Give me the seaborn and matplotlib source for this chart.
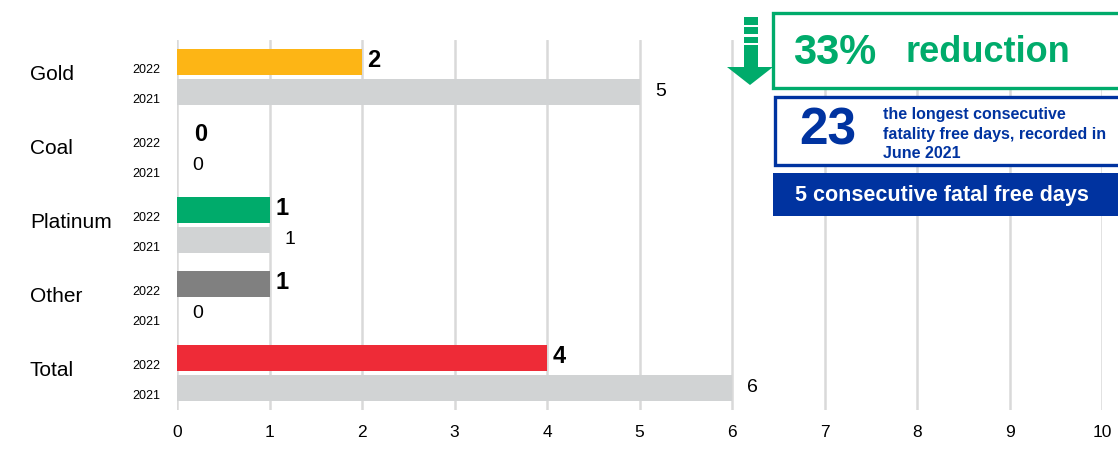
import pandas as pd
import seaborn as sns
import matplotlib.pyplot as plt
import matplotlib.transforms as mtransforms
from matplotlib.patches import Rectangle, Polygon

# data
commodities = ['Gold', 'Coal', 'Platinum', 'Other', 'Total']
years = ['2022', '2021']
fatal_2022 = [2, 0, 1, 1, 4]
fatal_2021 = [5, 0, 1, 0, 6]
colours_2022 = ['#FDB515', '#FDB515', '#00AB6B', '#808080', '#EE2B37']
colour_2021 = '#D1D3D4'
x_ticks = list(range(0, 11))

green = '#00AB6B'
blue = '#0033A0'

df = pd.DataFrame({
    'Commodity': commodities * 2,
    'Year': ['2022'] * len(commodities) + ['2021'] * len(commodities),
    'Fatalities': fatal_2022 + fatal_2021,
})

sns.set_style('white')
plt.rcParams['font.family'] = ['Liberation Sans', 'DejaVu Sans']
plt.rcParams['text.color'] = 'black'

W, H = 1118, 453
fig = plt.figure(figsize=(W / 100, H / 100), dpi=100)
ax = fig.add_axes([177 / W, 43 / H, 925 / W, 370 / H])

sns.barplot(data=df, y='Commodity', x='Fatalities', hue='Year', hue_order=years,
            order=commodities, orient='h', width=0.8, gap=0.11, saturation=1,
            palette=[colours_2022[0], colour_2021], legend=False, ax=ax,
            edgecolor='none', linewidth=0)

# colour the 2022 bars per commodity
for bar, c in zip(ax.containers[0], colours_2022):
    bar.set_facecolor(c)

ax.set_xlim(0, 10)
ax.set_ylim(4.5, -0.5)
ax.set_xticks(x_ticks)
ax.set_yticks([])
ax.set_xlabel('')
ax.set_ylabel('')
ax.xaxis.grid(True, color='#D9D9D9', lw=1.8)
ax.set_axisbelow(True)
for s in ax.spines.values():
    s.set_visible(False)
ax.tick_params(axis='x', length=0, pad=11, labelsize=12.5, colors='black')
for lab in ax.get_xticklabels():
    lab.set_family(['Liberation Sans Narrow', 'Liberation Sans'])

trans = mtransforms.blended_transform_factory(ax.transAxes, ax.transData)

# category labels
for i, name in enumerate(commodities):
    ax.text(-0.159, i - 0.04, name, transform=trans, ha='left', va='center', fontsize=15)

# year labels + value labels
for cont, yr, vals in zip(ax.containers, years, [fatal_2022, fatal_2021]):
    for bar, v in zip(cont, vals):
        yc = bar.get_y() + bar.get_height() / 2
        ax.text(-0.018, yc + 0.11, yr, transform=trans, ha='right', va='center', fontsize=9)
        if yr == '2022':
            off = 12 if v == 0 else 4
            ax.annotate(str(v), xy=(v, yc), xytext=(off, 1), textcoords='offset points',
                        ha='left', va='center', fontsize=17, fontweight='bold')
        else:
            ax.annotate(str(v), xy=(v, yc), xytext=(11, 0), textcoords='offset points',
                        ha='left', va='center', fontsize=14)


def fx(x):
    return x / W


def fy(y):
    return 1 - y / H


tf = fig.transFigure

# green reduction box and arrow
fig.patches.append(Rectangle((fx(773), fy(88)), (1135 - 773) / W, 75 / H, transform=tf,
                             facecolor='white', edgecolor=green, lw=2.4))
fig.text(fx(793), fy(53), '33%', fontsize=30, fontweight='bold', color=green, va='center')
fig.text(fx(905), fy(52), 'reduction', fontsize=26, fontweight='bold', color=green, va='center')
for y0, y1 in [(17, 25), (27, 34), (37, 43), (45, 68)]:
    fig.patches.append(Rectangle((fx(744), fy(y1)), 14 / W, (y1 - y0) / H, transform=tf,
                                 facecolor=green, edgecolor='none'))
fig.patches.append(Polygon([(fx(727), fy(67)), (fx(773), fy(67)), (fx(750), fy(85))],
                           closed=True, transform=tf, facecolor=green, edgecolor='none'))

# blue record box
fig.patches.append(Rectangle((fx(775), fy(165)), (1135 - 775) / W, 68 / H, transform=tf,
                             facecolor='white', edgecolor=blue, lw=2.4))
fig.text(fx(799), fy(131), '23', fontsize=37, fontweight='bold', color=blue, va='center')
for y, line in [(115, 'the longest consecutive'), (134, 'fatality free days, recorded in'),
                (153, 'June 2021')]:
    fig.text(fx(883), fy(y), line, fontsize=11.5, fontweight='bold', color=blue, va='center')

# blue filled banner
fig.patches.append(Rectangle((fx(773), fy(216)), (1135 - 773) / W, 43 / H, transform=tf,
                             facecolor=blue, edgecolor='none'))
fig.text(fx(795), fy(195), '5 consecutive fatal free days', fontsize=15.5, fontweight='bold',
         color='white', va='center')

plt.savefig('out.png', dpi=100)
